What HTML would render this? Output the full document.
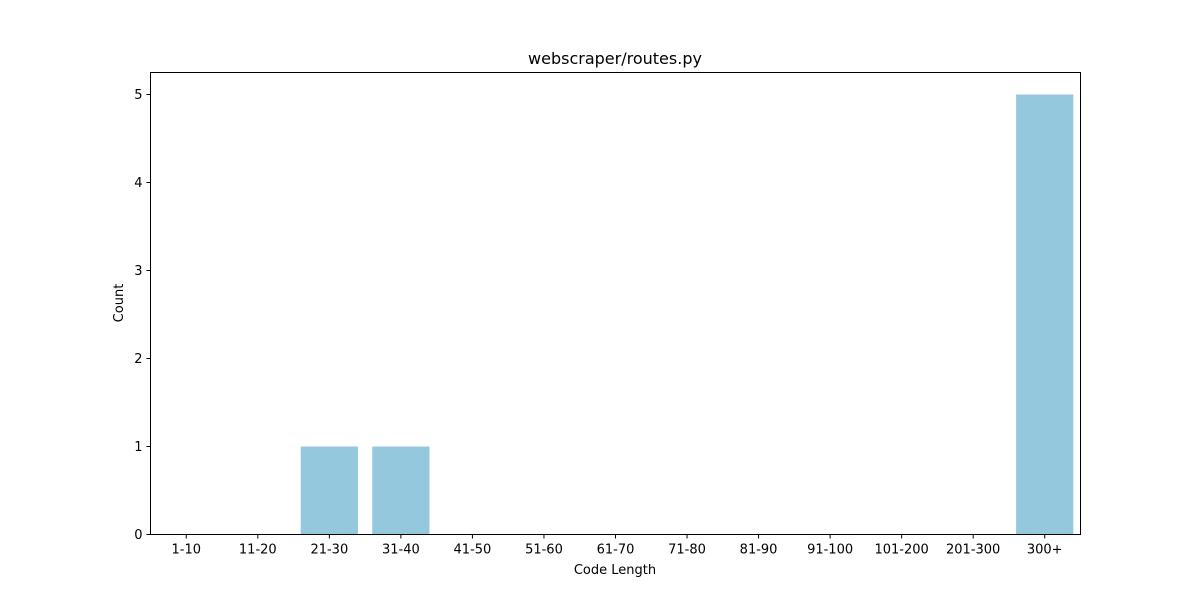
<!DOCTYPE html>
<html><head><meta charset="utf-8"><style>
body{margin:0;background:#fff;}
svg text{font-family:"DejaVu Sans","Liberation Sans",sans-serif;fill:#000;}
</style></head><body>
<svg width="1200" height="600" viewBox="0 0 1200 600">
<rect width="1200" height="600" fill="#fff"/>
<g id="bars"></g>
<g id="xticks"></g>
<g id="yticks"></g>
<rect x="150.5" y="72.5" width="930" height="462" fill="none" stroke="#000" stroke-width="1"/>
<text x="615" y="64" text-anchor="middle" font-size="16">webscraper/routes.py</text>
<text x="615" y="574" text-anchor="middle" font-size="13">Code Length</text>
<text x="123" y="303" text-anchor="middle" font-size="13" transform="rotate(-90 123 303)">Count</text>
</svg>
<script>
const categories=["1-10","11-20","21-30","31-40","41-50","51-60","61-70","71-80","81-90","91-100","101-200","201-300","300+"];
const counts=[0,0,1,1,0,0,0,0,0,0,0,0,5];
const yTicks=[0,1,2,3,4,5];
const L=150.5,R=1080.5,T=72.5,B=534.5,ymax=5.25;
const n=categories.length;
const xs=i=>L+(i+0.5)*(R-L)/n;
const ys=v=>B-v*(B-T)/ymax;
const bw=0.8*(R-L)/n;
const ns="http://www.w3.org/2000/svg";
const bars=document.getElementById('bars'),xt=document.getElementById('xticks'),yt=document.getElementById('yticks');
function mk(t,a){const e=document.createElementNS(ns,t);for(const k in a)e.setAttribute(k,a[k]);return e;}
categories.forEach((c,i)=>{
 const r=mk('rect',{x:xs(i)-bw/2,y:ys(counts[i]),width:bw,height:B-ys(counts[i]),fill:'#94c8dc'});
 
 
 bars.appendChild(r);
 const l=mk('line',{x1:xs(i),x2:xs(i),y1:B,y2:B+4,stroke:'#000'});
 
 
 xt.appendChild(l);
 const t=mk('text',{x:xs(i),y:B+19,'text-anchor':'middle','font-size':'13'});
 t.textContent=c;
 
 
 xt.appendChild(t);
});
yTicks.forEach(v=>{
 const l=mk('line',{x1:L-4,x2:L,y1:ys(v),y2:ys(v),stroke:'#000'});
 
 
 yt.appendChild(l);
 const t=mk('text',{x:L-8,y:ys(v)+4.5,'text-anchor':'end','font-size':'13'});
 t.textContent=v;
 
 
 yt.appendChild(t);
});
</script>
</body></html>
